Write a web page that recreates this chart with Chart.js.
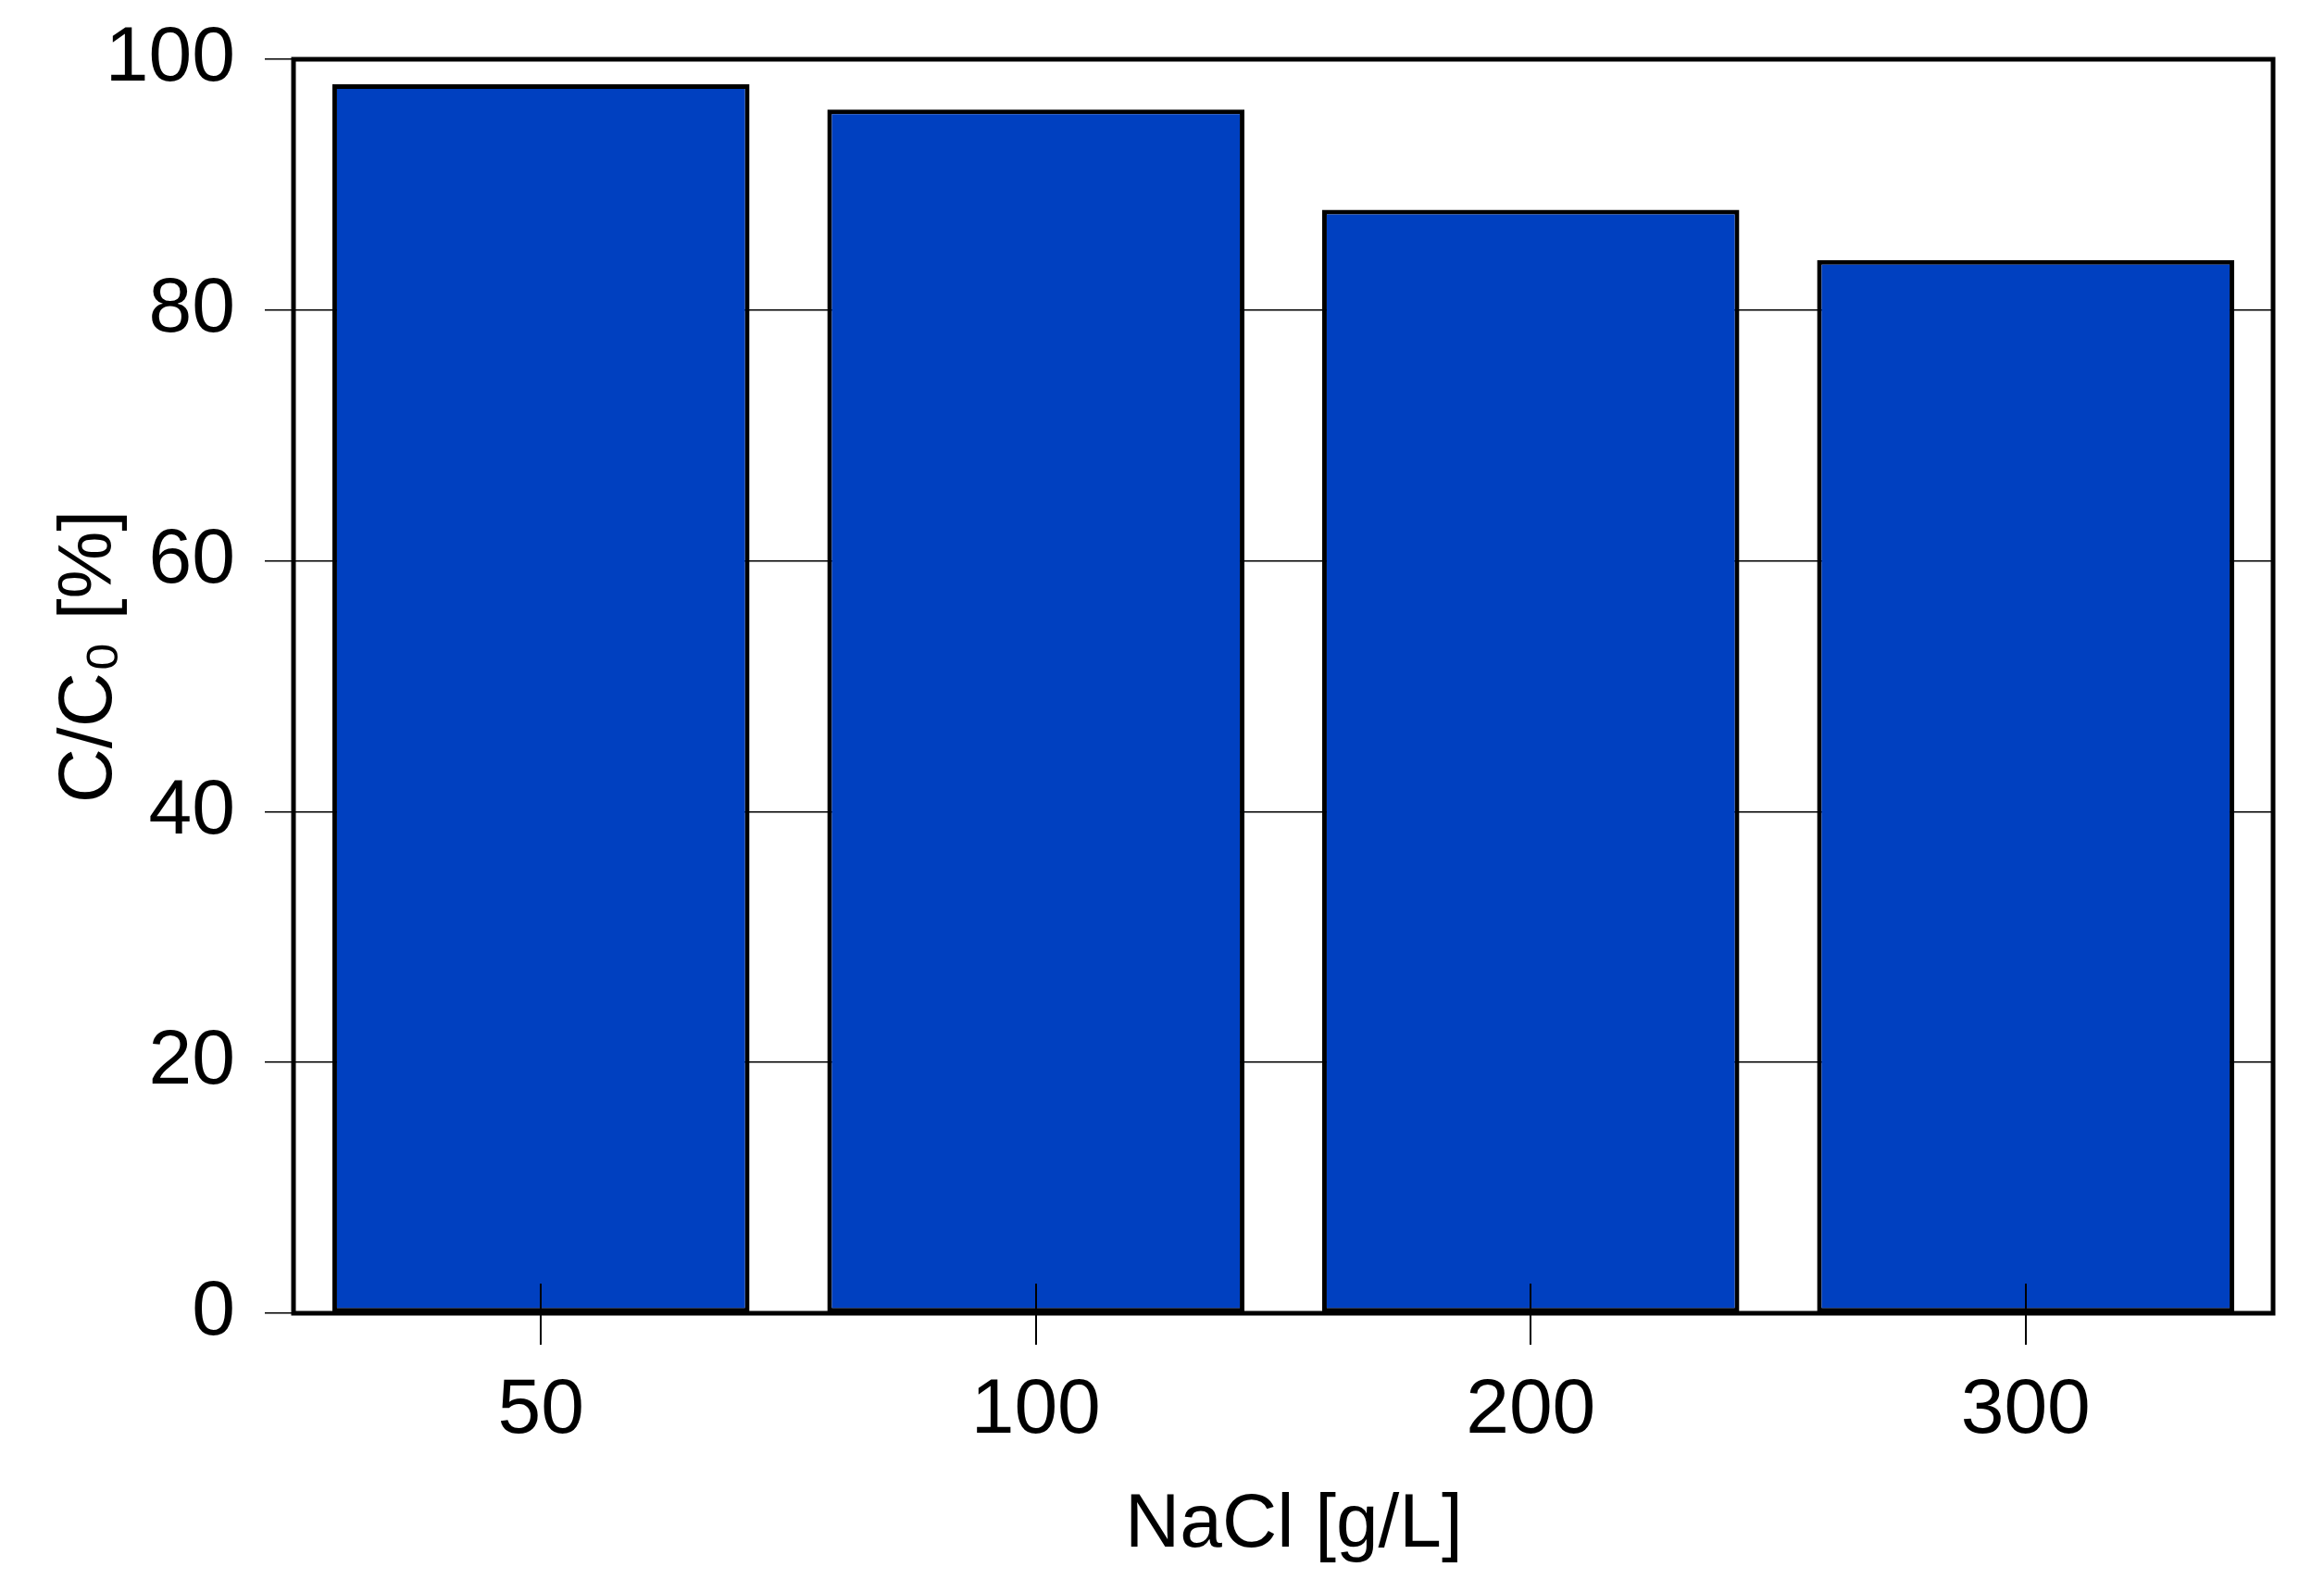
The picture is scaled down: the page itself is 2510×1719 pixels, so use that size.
<!DOCTYPE html>
<html>
<head>
<meta charset="utf-8">
<script src="https://cdn.jsdelivr.net/npm/chart.js@4"></script>
<style>
  html, body { margin: 0; padding: 0; background: #ffffff; }
  #wrap { width: 2510px; height: 1719px; }
</style>
</head>
<body>
<div id="wrap"><canvas id="c" width="2510" height="1719"></canvas></div>
<script>
// ---- data ----
const categories = ["50", "100", "200", "300"];
const ratioValues = [98, 96, 88, 84];
const yTicks = [0, 20, 40, 60, 80, 100];
const xTitle = "NaCl [g/L]";
const yTitle = "C/C\u2080 [%]";

const FONT = "'Liberation Sans', Arial, sans-serif";

const framePlugin = {
  id: 'frame',
  afterDatasetsDraw(chart) {
    const {ctx, chartArea: a, scales} = chart;
    ctx.save();
    // inner part of x tick marks (drawn over bars)
    ctx.strokeStyle = '#000';
    ctx.lineWidth = 2;
    const xs = scales.x;
    xs.ticks.forEach((t, i) => {
      const px = Math.round(xs.getPixelForTick(i));
      ctx.beginPath();
      ctx.moveTo(px, a.bottom);
      ctx.lineTo(px, a.bottom - 32);
      ctx.stroke();
    });
    // frame
    ctx.lineWidth = 5;
    ctx.strokeRect(a.left, a.top, a.right - a.left, a.bottom - a.top);
    ctx.restore();
  }
};

new Chart(document.getElementById('c'), {
  type: 'bar',
  data: {
    labels: categories,
    datasets: [{
      data: ratioValues,
      backgroundColor: 'rgb(0,64,192)',
      borderColor: '#000',
      borderWidth: 5,
      borderSkipped: false,
      barPercentage: 0.843,
      categoryPercentage: 1.0
    }]
  },
  options: {
    responsive: false,
    animation: false,
    devicePixelRatio: 1,
    layout: { padding: { top: 64, right: 55, left: 0, bottom: 0 } },
    plugins: {
      legend: { display: false },
      tooltip: { enabled: false }
    },
    scales: {
      x: {
        grid: { display: true, offset: false, drawOnChartArea: false, color: '#000', lineWidth: 2, tickLength: 34 },
        border: { display: false },
        ticks: { color: '#000', font: { family: FONT, size: 84 }, padding: 21, maxRotation: 0 },
        title: { display: true, text: ' ' + xTitle, color: '#000', font: { family: FONT, size: 82 }, padding: { top: 0, bottom: 22 } },
        afterFit(scale) { scale.height = 301; scale.paddingLeft = 0; scale.paddingRight = 0; }
      },
      y: {
        min: 0, max: 100,
        afterBuildTicks(scale) { scale.ticks = yTicks.map(v => ({ value: v })); },
        grid: { color: '#000', lineWidth: 1.5, tickLength: 31 },
        border: { display: false },
        ticks: { color: '#000', font: { family: FONT, size: 84 }, padding: 32 },
        title: { display: true, text: '\u2002 ' + yTitle, color: '#000', font: { family: FONT, size: 82 }, padding: { top: 48, bottom: 0 } },
        afterFit(scale) { scale.width = 317; scale.paddingTop = 0; scale.paddingBottom = 0; }
      }
    }
  },
  plugins: [framePlugin]
});
</script>
</body>
</html>
